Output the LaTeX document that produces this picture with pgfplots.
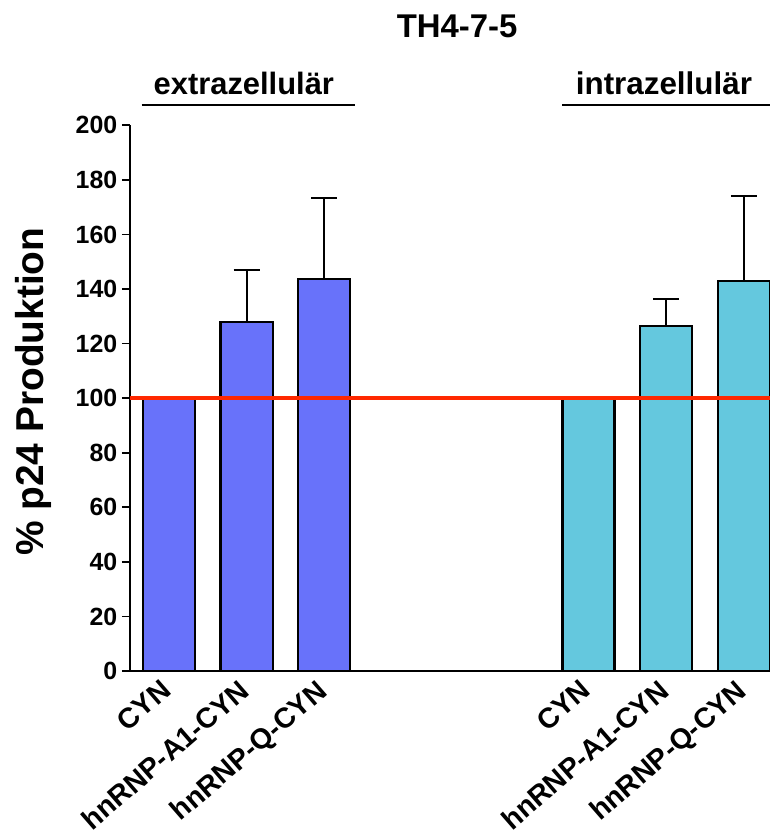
\documentclass[border=0pt]{standalone}
\usepackage{fontspec}
\setmainfont{Liberation Sans}
\usepackage{pgfplots}
\pgfplotsset{compat=1.18}

\definecolor{barblue}{RGB}{104,114,250}
\definecolor{barcyan}{RGB}{100,200,222}
\definecolor{refred}{RGB}{255,40,0}

\begin{document}
\begin{tikzpicture}[x=1bp,y=1bp]
\begin{axis}[
    scale only axis,
    width=640bp, height=545.7bp,
    xmin=-0.5, xmax=7.735,
    ymin=0, ymax=200,
    axis x line=bottom, axis y line=left,
    axis line style={-, line width=1.8bp},
    clip=false,
    ytick={0,20,...,200},
    xtick={0,1,2,5.4,6.4,7.4},
    xticklabels={CYN,hnRNP-A1-CYN,hnRNP-Q-CYN,CYN,hnRNP-A1-CYN,hnRNP-Q-CYN},
    x tick style={draw=none},
    y tick style={line width=1.8bp, black},
    tick align=outside,
    major tick length=8bp,
    /pgf/number format/assume math mode=true,
    yticklabel style={font=\bfseries\fontsize{25}{25}\selectfont, inner sep=4.5bp},
    xticklabel style={xshift=-9bp, yshift=4bp, rotate=41,
        font=\bfseries\fontsize{28.5}{28.5}\selectfont,
        anchor=north east, inner sep=2bp},
    ylabel={\% p24 Produktion},
    every axis y label/.style={at={(axis description cs:-0.1516,0.512)}, rotate=90,
        anchor=center, font=\bfseries\fontsize{39}{39}\selectfont},
    title={TH4-7-5},
    every axis title/.style={font=\bfseries\fontsize{33}{33}\selectfont,
        at={(axis description cs:0.511,1.161)}, anchor=base},
    bar width=0.67,
]
% extrazellulaer
\addplot[ybar, bar shift=0, fill=barblue, draw=black, line width=2.2bp,
    error bars/.cd, y dir=plus, y explicit,
    error bar style={line width=2bp, black},
    error mark options={rotate=90, line width=2bp, black, mark size=13bp}]
    coordinates {
    (0,100) +- (0,0)
    (1,127.8) +- (0,19.3)
    (2,143.6) +- (0,29.9)
    };
% intrazellulaer
\addplot[ybar, bar shift=0, fill=barcyan, draw=black, line width=2.2bp,
    error bars/.cd, y dir=plus, y explicit,
    error bar style={line width=2bp, black},
    error mark options={rotate=90, line width=2bp, black, mark size=13bp}]
    coordinates {
    (5.4,100) +- (0,0)
    (6.4,126.3) +- (0,9.9)
    (7.4,143.0) +- (0,31.2)
    };
% 100 % Referenzlinie
\addplot[refred, line width=3.5bp] coordinates {(-0.5,100) (7.735,100)};

\node[font=\bfseries\fontsize{31}{31}\selectfont, anchor=base] at (axis cs:0.965,211.3) {extrazellulär};
\node[font=\bfseries\fontsize{31.5}{31.5}\selectfont, anchor=base] at (axis cs:6.37,211.3) {intrazellulär};
\draw[line width=2bp] (axis cs:-0.35,207.3) -- (axis cs:2.39,207.3);
\draw[line width=2bp] (axis cs:5.06,207.3) -- (axis cs:7.735,207.3);
\end{axis}
\pgfresetboundingbox
\path[use as bounding box] (-130bp,-161bp) rectangle (640bp,671bp);
\end{tikzpicture}
\end{document}
